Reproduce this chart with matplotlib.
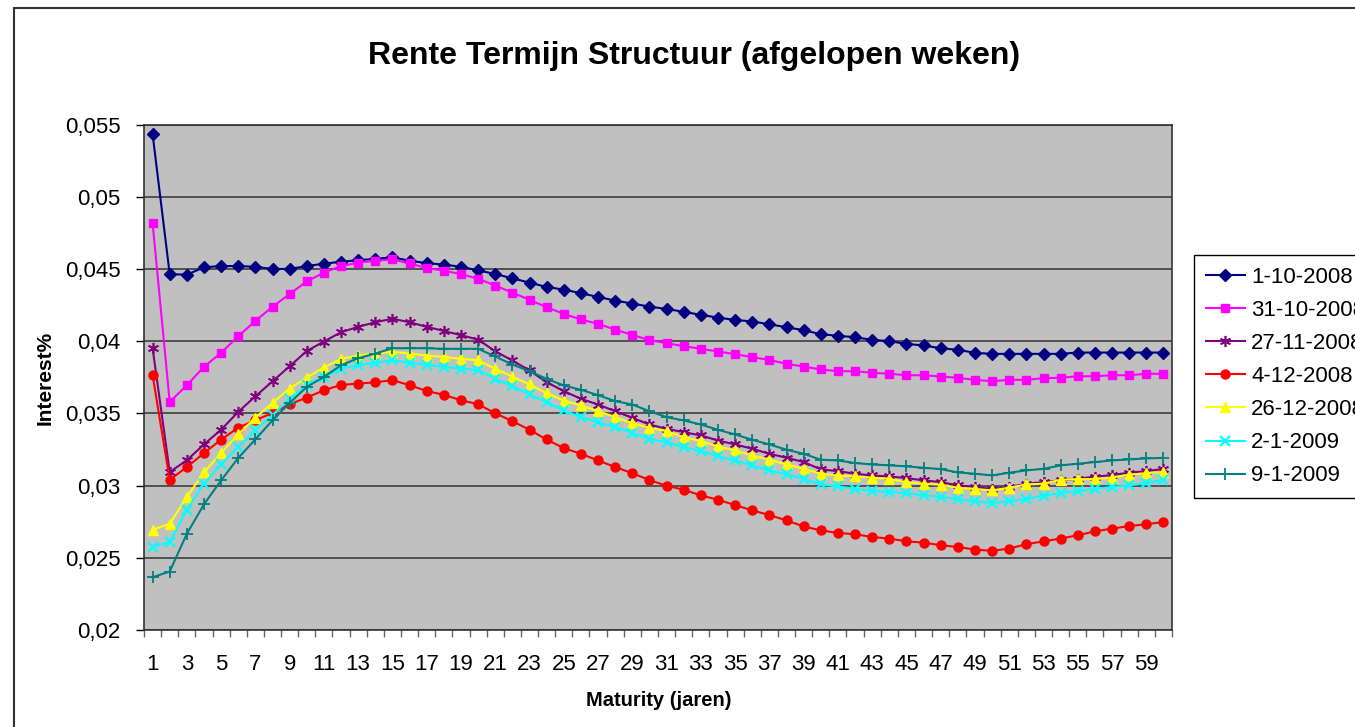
import matplotlib
matplotlib.use('Agg')
import matplotlib.pyplot as plt
from matplotlib.patches import Rectangle
from matplotlib.ticker import FuncFormatter, MultipleLocator

# maturities 1..60 years
maturity = list(range(1, 61))

dates = ['1-10-2008', '31-10-2008', '27-11-2008', '4-12-2008',
         '26-12-2008', '2-1-2009', '9-1-2009']

r_01_10_2008 = [
    0.05435, 0.04464, 0.0446, 0.04511, 0.0452, 0.0452, 0.04515, 0.0450, 0.0450, 0.0452,
    0.04536, 0.0455, 0.0456, 0.0457, 0.0458, 0.04557, 0.0454, 0.0453, 0.04515, 0.0449,
    0.04465, 0.04435, 0.04405, 0.04375, 0.04357, 0.04332, 0.04306, 0.04281, 0.0426, 0.04239,
    0.04223, 0.04203, 0.04182, 0.04163, 0.04147, 0.04136, 0.04117, 0.04096, 0.04076, 0.04048,
    0.04037, 0.04027, 0.04009, 0.0400, 0.03981, 0.0397, 0.03951, 0.0394, 0.03919, 0.03912,
    0.03912, 0.03912, 0.03912, 0.03912, 0.03921, 0.03921, 0.03921, 0.03921, 0.03921, 0.03921]

r_31_10_2008 = [
    0.0482, 0.03579, 0.03695, 0.03822, 0.03919, 0.04034, 0.0414, 0.04238, 0.04326, 0.04414,
    0.04474, 0.0452, 0.04543, 0.04557, 0.04566, 0.04538, 0.04506, 0.04488, 0.04464, 0.04432,
    0.04385, 0.04336, 0.04286, 0.04235, 0.04189, 0.0415, 0.0412, 0.0408, 0.04043, 0.04007,
    0.03986, 0.03965, 0.03947, 0.03928, 0.0391, 0.03889, 0.0387, 0.03843, 0.03824, 0.03804,
    0.03792, 0.03792, 0.03781, 0.03774, 0.03764, 0.03764, 0.03755, 0.03746, 0.03732, 0.03723,
    0.03732, 0.03732, 0.03744, 0.03746, 0.03757, 0.03757, 0.03764, 0.03764, 0.03774, 0.03774]

r_27_11_2008 = [
    0.03953, 0.03094, 0.03175, 0.03285, 0.03387, 0.0351, 0.03618, 0.03722, 0.03826, 0.03932,
    0.03997, 0.04062, 0.04099, 0.04131, 0.04155, 0.04131, 0.04099, 0.04071, 0.04041, 0.04011,
    0.0393, 0.03866, 0.03797, 0.03716, 0.03654, 0.03601, 0.03561, 0.03515, 0.03469, 0.03423,
    0.03393, 0.0337, 0.03347, 0.03312, 0.03285, 0.03255, 0.0322, 0.03193, 0.03163, 0.03112,
    0.031, 0.03082, 0.0307, 0.03063, 0.03052, 0.03036, 0.03024, 0.03001, 0.0299, 0.02976,
    0.0299, 0.03013, 0.03024, 0.03036, 0.03047, 0.03062, 0.03072, 0.0309, 0.031, 0.03115]

r_04_12_2008 = [
    0.03766, 0.0304, 0.03128, 0.03225, 0.03318, 0.03401, 0.03452, 0.03503, 0.03563, 0.03609,
    0.0366, 0.03697, 0.03706, 0.03715, 0.0373, 0.03695, 0.03655, 0.03628, 0.03591, 0.03563,
    0.03501, 0.03446, 0.03386, 0.03319, 0.03259, 0.0322, 0.03174, 0.03128, 0.03086, 0.03038,
    0.02999, 0.02971, 0.02932, 0.02902, 0.02865, 0.02828, 0.02796, 0.02759, 0.02717, 0.0269,
    0.02672, 0.02663, 0.02644, 0.02633, 0.02614, 0.02605, 0.02587, 0.02575, 0.02557, 0.02548,
    0.02564, 0.02594, 0.02614, 0.02633, 0.02656, 0.02683, 0.02702, 0.0272, 0.02732, 0.02748]

r_26_12_2008 = [
    0.02694, 0.02735, 0.0292, 0.03091, 0.03225, 0.03355, 0.0347, 0.03572, 0.03672, 0.03748,
    0.03817, 0.03877, 0.039, 0.03914, 0.03926, 0.03914, 0.039, 0.03891, 0.03877, 0.03868,
    0.03808, 0.03755, 0.037, 0.0364, 0.03589, 0.03555, 0.03515, 0.03474, 0.03432, 0.034,
    0.03377, 0.03335, 0.03308, 0.03271, 0.03243, 0.03209, 0.03179, 0.03146, 0.03116, 0.03082,
    0.0307, 0.03063, 0.03054, 0.03047, 0.03024, 0.03013, 0.03006, 0.02985, 0.02976, 0.02967,
    0.02985, 0.03008, 0.03013, 0.0304, 0.03045, 0.03045, 0.03055, 0.03075, 0.03085, 0.03095]

r_02_01_2009 = [
    0.02578, 0.02608, 0.02832, 0.03013, 0.03147, 0.03267, 0.03383, 0.03487, 0.03602, 0.03695,
    0.03752, 0.0381, 0.03833, 0.0385, 0.03868, 0.0385, 0.03838, 0.03822, 0.0381, 0.03799,
    0.03739, 0.03686, 0.03631, 0.03578, 0.0352, 0.03474, 0.03439, 0.03405, 0.03365, 0.03324,
    0.03299, 0.03266, 0.03239, 0.03202, 0.03174, 0.0314, 0.03105, 0.03077, 0.03047, 0.03008,
    0.02994, 0.02978, 0.02962, 0.02955, 0.02948, 0.02932, 0.02921, 0.02907, 0.0289, 0.02879,
    0.0289, 0.02909, 0.0293, 0.02948, 0.02962, 0.02978, 0.0299, 0.03001, 0.03017, 0.0304]

r_09_01_2009 = [
    0.02365, 0.02405, 0.02666, 0.0287, 0.03036, 0.03191, 0.0332, 0.03452, 0.03572, 0.03683,
    0.03752, 0.03833, 0.03882, 0.03914, 0.03951, 0.03951, 0.03951, 0.03947, 0.03947, 0.03947,
    0.03894, 0.03838, 0.03792, 0.03739, 0.03693, 0.03663, 0.03626, 0.03585, 0.03561, 0.03515,
    0.03474, 0.03451, 0.03423, 0.03386, 0.03354, 0.03317, 0.03285, 0.03248, 0.0322, 0.03179,
    0.03174, 0.03156, 0.03146, 0.0314, 0.03133, 0.03123, 0.03114, 0.03091, 0.03082, 0.0307,
    0.03089, 0.03105, 0.03116, 0.0314, 0.03151, 0.03163, 0.03174, 0.03181, 0.03188, 0.03192]

# Excel-ish line styles per series: colour, marker, marker size, marker edge width
styles = [
    ('#000080', 'D', 6.0, 1.0),
    ('#FF00FF', 's', 6.0, 1.0),
    ('#800080', (6, 2, 0), 8.0, 1.2),
    ('#FF0000', 'o', 6.5, 1.0),
    ('#FFFF00', '^', 7.5, 1.0),
    ('#00FFFF', 'x', 6.5, 1.6),
    ('#008080', '+', 8.0, 1.3),
]


def comma_fmt(v, pos):
    return f'{round(v, 4):g}'.replace('.', ',')


def main():
    plt.rcParams['font.family'] = ['Liberation Sans', 'DejaVu Sans']
    W, H = 1355, 727
    fig = plt.figure(figsize=(W / 100, H / 100), dpi=100)

    # chart area frame (runs off the right/bottom edge like the screenshot)
    fig.patches.append(Rectangle((14 / W, -0.1), 2, 1 - 7.5 / H + 0.1,
                                 transform=fig.transFigure, fill=False,
                                 edgecolor='#333333', lw=1.5))

    left, right, top, bottom = 144, 1172, 124.5, 630
    ax = fig.add_axes([left / W, 1 - bottom / H, (right - left) / W, (bottom - top) / H])
    ax.set_facecolor('#C0C0C0')

    series = [r_01_10_2008, r_31_10_2008, r_27_11_2008, r_04_12_2008,
              r_26_12_2008, r_02_01_2009, r_09_01_2009]
    for vals, label, (col, mk, ms, mew) in zip(series, dates, styles):
        ax.plot(maturity, vals, color=col, lw=1.5, marker=mk, ms=ms,
                mec=col, mfc=col, mew=mew, label=label, zorder=3)

    ax.set_xlim(0.5, 60.5)
    ax.set_ylim(0.02, 0.055)
    ax.yaxis.set_major_locator(MultipleLocator(0.005))
    ax.yaxis.set_major_formatter(FuncFormatter(comma_fmt))
    ax.set_xticks(maturity[::2])
    ax.set_xticks([m - 0.5 for m in maturity] + [60.5], minor=True)
    ax.tick_params(axis='x', which='major', length=0, pad=17, labelsize=16)
    ax.tick_params(axis='x', which='minor', length=5, width=1, color='#666666')
    ax.tick_params(axis='y', length=6, width=1, pad=11, labelsize=16)
    ax.grid(axis='y', color='#333333', lw=1.1, zorder=1)
    for s in ax.spines.values():
        s.set_color('#333333')
        s.set_linewidth(1.2)

    fig.text(694 / W, 1 - 64 / H, 'Rente Termijn Structuur (afgelopen weken)',
             ha='center', va='baseline', fontsize=23, fontweight='bold')
    fig.text(659 / W, 1 - 706 / H, 'Maturity (jaren)', ha='center', va='baseline',
             fontsize=14.5, fontweight='bold')
    fig.text(45 / W, 1 - 378 / H, 'Interest%', ha='center', va='center',
             rotation=90, fontsize=15, fontweight='bold')

    leg = ax.legend(loc='upper left', bbox_to_anchor=(1194 / W, 1 - 255 / H),
                    bbox_transform=fig.transFigure, fontsize=16, frameon=True,
                    fancybox=False, edgecolor='black', framealpha=1,
                    borderaxespad=0, borderpad=0.53, handlelength=1.75,
                    handletextpad=0.3, labelspacing=0.545)
    leg.get_frame().set_linewidth(1.0)

    fig.savefig('out.png', dpi=100)
    plt.close(fig)


if __name__ == '__main__':
    main()
